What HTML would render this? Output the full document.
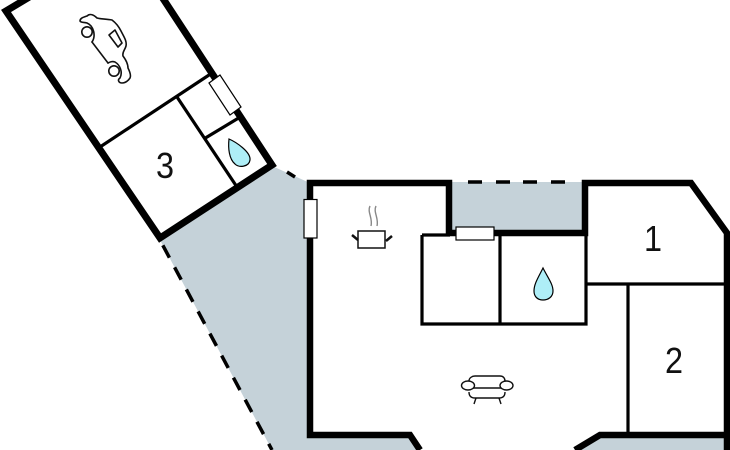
<!DOCTYPE html>
<html>
<head>
<meta charset="utf-8">
<style>
html,body{margin:0;padding:0;background:#fff;width:730px;height:450px;overflow:hidden}
svg{display:block}
text{font-family:"Liberation Sans",sans-serif;font-size:36px;fill:#111;text-anchor:middle}
</style>
</head>
<body>
<svg width="730" height="450" viewBox="0 0 730 450" xmlns="http://www.w3.org/2000/svg">
<rect width="730" height="450" fill="#fff"/>
<!-- terrace fills -->
<polygon points="160,240 272,166 310,183 310,435 410,435 420,450 272,450" fill="#c5d2d9"/>
<rect x="449" y="182" width="136" height="51" fill="#c5d2d9"/>
<polygon points="575,450 600,435 730,435 730,450" fill="#c5d2d9"/>
<!-- dashed lines -->
<g stroke="#000" stroke-width="3.500" fill="none">
<path d="M160,240 L272,450" stroke-dasharray="14 11" stroke-dashoffset="-6"/>
<path d="M287,172 L295,177"/>
<path d="M468,182H482M496,182H510M523,182H537M551,182H565"/>
</g>
<!-- garage block walls -->
<g stroke="#000" fill="none" stroke-linecap="square">
<path d="M26,-1 L6,11 L160,238 L272,165 L162,-3" stroke-width="7"/>
<path d="M100,147 L209,75" stroke-width="3.200"/>
<path d="M177,97 L235,184" stroke-width="3.200"/>
<path d="M207,137 L237,119" stroke-width="3.200"/>
</g>
<polygon points="209,83 220,75 241,107 230,115" fill="#fff" stroke="#000" stroke-width="1.200"/>
<!-- main house walls -->
<g stroke="#000" fill="none">
<path d="M420,450 L410,435 H310 V183 H449 V233 H585 V183 H691 L727,233 V450" stroke-width="6.500"/>
<path d="M575,450 L600,435 H730" stroke-width="6.500"/>
<path d="M422,235 H450 M422,235 V324 H586 V233" stroke-width="3.200"/>
<path d="M500,234 V324" stroke-width="3.200"/>
<path d="M586,284 H725" stroke-width="3.200"/>
<path d="M628,284 V435" stroke-width="3.200"/>
</g>
<rect x="304" y="199.500" width="13" height="38.500" fill="#fff" stroke="#000" stroke-width="1.200"/>
<rect x="456" y="227" width="38" height="13" fill="#fff" stroke="#000" stroke-width="1.200"/>
<!-- water drops -->
<path d="M229,139 C236,142 251,152 250,160 C249,167 239,168 235,164 C229,159 228,148 229,139 Z" fill="#aeeef7" stroke="#000" stroke-width="1.200"/>
<path d="M543,268 C538,278 534,284 534,291 C534,297 538,300 543,300 C548,300 553,297 553,291 C553,284 548,278 543,268 Z" fill="#aeeef7" stroke="#000" stroke-width="1.200"/>
<!-- car -->
<g fill="none" stroke="#111" stroke-width="1.600" stroke-linejoin="round" stroke-linecap="round">
<path d="M92,42 C96,36 94,26 87,23 C84,22 81,23 80,21 C80,18 84,17 87,16 C90,13 94,15 97,18 C100,19 106,19 112,20 C116,23 119,27 121,31 C124,37 127,41 126,46 C125,50 122,52 123,56 C126,60 128,64 128,68 C130,72 131,76 130,78 C128,81 125,83 122,83 C119,83 117,80 120,78 C123,72 120,65 115,62 C112,61 110,62 108,63"/>
<path d="M92,42 L108,63"/>
<circle cx="87" cy="32" r="5.200"/>
<circle cx="114" cy="71" r="5.200"/>
<path d="M109,35 L115,30 L122,43 L118,47 Z"/>
</g>
<!-- pot -->
<rect x="358" y="231" width="27" height="17" fill="#fff" stroke="#111" stroke-width="1.500"/>
<path d="M352,235 L358,240 M386,241 L392,236" stroke="#111" stroke-width="2.500" fill="none"/>
<path d="M370,206 C367,212 373,218 371,226 M376,206 C373,212 379,218 377,226" stroke="#888" stroke-width="1.400" fill="none"/>
<!-- sofa -->
<g fill="none" stroke="#111" stroke-width="1.400">
<path d="M469,381 C469,378 472,376 475,376 H500 C503,376 505,378 505,381"/>
<path d="M469,388 H505"/>
<path d="M469,392 C469,396 471,398 475,398 H499 C503,398 505,396 505,392"/>
<path d="M476,398 L474,404 M499,398 L501,404"/>
<ellipse cx="468" cy="385.500" rx="6.500" ry="4.500" fill="#fff"/>
<ellipse cx="506.500" cy="385.500" rx="6.500" ry="4.500" fill="#fff"/>
</g>
<!-- labels -->
<text transform="translate(165 178) scale(.9 1)">3</text>
<text transform="translate(653 251) scale(.9 1)">1</text>
<text transform="translate(674 373) scale(.9 1)">2</text>
</svg>
</body>
</html>
